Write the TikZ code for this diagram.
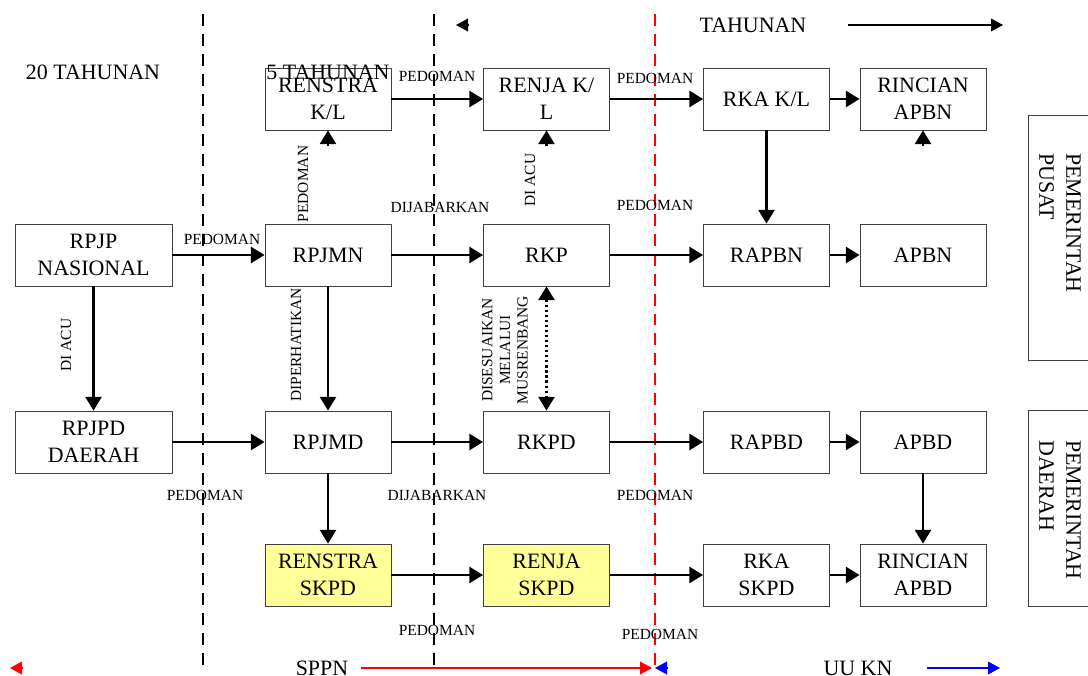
\documentclass[tikz,border=0pt]{standalone}
\usepackage{fontspec}
\setmainfont{Liberation Serif}
\usetikzlibrary{arrows.meta,positioning,calc}
\definecolor{kuning}{HTML}{FFFF99}

\begin{document}
\begin{tikzpicture}[x=0.025cm,y=-0.025cm,>={Triangle[length=0.34cm,width=0.4cm]},font=\fontsize{15.6pt}{19.2pt}\selectfont]
    \tikzset{
        plan/.style={draw=black!75,line width=0.6pt,align=center,minimum width=3.15cm,minimum height=1.55cm,inner sep=2pt},
        planSkpd/.style={plan,fill=kuning},
        ket/.style={font=\fontsize{11pt}{12.5pt}\selectfont,inner sep=1pt,align=center},
        ketV/.style={ket,rotate=90},
        flow/.style={->,line width=1.6pt},
        garis/.style={-{Triangle[length=0.3cm,width=0.32cm]},line width=0.8pt},
        batas/.style={line width=0.9pt,dash pattern=on 8.5pt off 5.7pt},
        pemdaBox/.style={draw=black!75,line width=0.6pt},
        pemda/.style={rotate=-90,align=left,inner sep=1pt}
    }
    \useasboundingbox (0,0) rectangle (1088,676);
    % Batas periode
    \draw[batas] (203,14) -- (203,670);
    \draw[batas] (434,14) -- (434,670);
    \draw[batas,red] (655,14) -- (655,670);
    % Periode
    \node (duapuluh) at (93,72) {20 TAHUNAN};
    \node (tahunan) at (753,25) {TAHUNAN};
    \coordinate (tKiri) at (456,25);
    \coordinate (tKanan) at (1003,25);
    \draw[garis] (468,25) -- (tKiri);
    \draw[garis] (848,25) -- (tKanan);
    % Kolom 20 tahunan
    \node[plan,minimum width=3.925cm] (rpjp) at (93.5,255) {RPJP\\NASIONAL};
    \node[plan,minimum width=3.925cm] (rpjpd) at (93.5,442) {RPJPD\\DAERAH};
    % Kolom 5 tahunan
    \node[plan] (renstrakl) at (328,99) {RENSTRA\\K/L};
    \node[plan] (rpjmn) at (328,255) {RPJMN};
    \node[plan] (rpjmd) at (328,442) {RPJMD};
    \node[planSkpd] (renstraskpd) at (328,575) {RENSTRA\\SKPD};
    \node (lima) at (328,72) {5 TAHUNAN};
    % Kolom tahunan
    \node[plan] (renjakl) at (546.5,99) {RENJA K/\\L};
    \node[plan] (rkp) at (546.5,255) {RKP};
    \node[plan] (rkpd) at (546.5,442) {RKPD};
    \node[planSkpd] (renjaskpd) at (546.5,575) {RENJA\\SKPD};
    \node[plan] (rkakl) at (766.5,99) {RKA K/L};
    \node[plan] (rapbn) at (766.5,255) {RAPBN};
    \node[plan] (rapbd) at (766.5,442) {RAPBD};
    \node[plan] (rkaskpd) at (766.5,575) {RKA\\SKPD};
    \node[plan] (rincianapbn) at (923,99) {RINCIAN\\APBN};
    \node[plan] (apbn) at (923,255) {APBN};
    \node[plan] (apbd) at (923,442) {APBD};
    \node[plan] (rincianapbd) at (923,575) {RINCIAN\\APBD};
    % Pemerintah
    \draw[pemdaBox] (1028,115) rectangle (1100,360);
    \draw[pemdaBox] (1028,410) rectangle (1100,606);
    \node[pemda] (pusat) at (1060,223) {PEMERINTAH\\PUSAT};
    \node[pemda] (daerah) at (1060,510) {PEMERINTAH\\DAERAH};
    % Baris 1
    \draw[flow] (renstrakl) -- (renjakl);
    \draw[flow] (renjakl) -- (rkakl);
    \draw[flow] (rkakl) -- (rincianapbn);
    \draw[flow] (rkakl) -- (rapbn);
    \draw[flow] ($(renstrakl.south)+(0,16)$) -- (renstrakl.south);
    \draw[flow] ($(renjakl.south)+(0,16)$) -- (renjakl.south);
    \draw[flow] ($(rincianapbn.south)+(0,16)$) -- (rincianapbn.south);
    % Baris 2
    \draw[flow] (rpjp) -- (rpjmn);
    \draw[flow] (rpjmn) -- (rkp);
    \draw[flow] (rkp) -- (rapbn);
    \draw[flow] (rapbn) -- (apbn);
    \draw[flow] (rpjp) -- (rpjpd);
    \draw[flow] (rpjmn) -- (rpjmd);
    \draw[<->,line width=1.6pt,dotted] (rkp) -- (rkpd);
    % Baris 3
    \draw[flow] (rpjpd) -- (rpjmd);
    \draw[flow] (rpjmd) -- (rkpd);
    \draw[flow] (rkpd) -- (rapbd);
    \draw[flow] (rapbd) -- (apbd);
    \draw[flow] (apbd) -- (rincianapbd);
    \draw[flow] (rpjmd) -- (renstraskpd);
    % Baris 4
    \draw[flow] (renstraskpd) -- (renjaskpd);
    \draw[flow] (renjaskpd) -- (rkaskpd);
    \draw[flow] (rkaskpd) -- (rincianapbd);
    % Keterangan
    \node[ket] (k1) at (437,76) {PEDOMAN};
    \node[ket] (k2) at (655,78) {PEDOMAN};
    \node[ketV] (k3) at (303,184) {PEDOMAN};
    \node[ketV] (k4) at (530,180) {DI ACU};
    \node[ket] (k5) at (440,207) {DIJABARKAN};
    \node[ket] (k6) at (655,205) {PEDOMAN};
    \node[ket] (k7) at (222,239) {PEDOMAN};
    \node[ketV] (k8) at (66,345) {DI ACU};
    \node[ketV] (k9) at (296,345) {DIPERHATIKAN};
    \node[ketV] (k10) at (505,350) {DISESUAIKAN\\MELALUI\\MUSRENBANG};
    \node[ket] (k11) at (205,495) {PEDOMAN};
    \node[ket] (k12) at (437,495) {DIJABARKAN};
    \node[ket] (k13) at (655,495) {PEDOMAN};
    \node[ket] (k14) at (437,630) {PEDOMAN};
    \node[ket] (k15) at (660,634) {PEDOMAN};
    % Dasar hukum
    \node (sppn) at (322,668) {SPPN};
    \node (uukn) at (858,668) {UU KN};
    \coordinate (sKiri) at (10,668);
    \coordinate (sKanan) at (652,668);
    \coordinate (uKiri) at (655,668);
    \coordinate (uKanan) at (1000,668);
    \draw[garis,red] (22,668) -- (sKiri);
    \draw[garis,red] (sppn.east) ++(8,0) -- (sKanan);
    \draw[garis,blue] (667,668) -- (uKiri);
    \draw[garis,blue] (uukn.east) ++(30,0) -- (uKanan);
\end{tikzpicture}
\end{document}
